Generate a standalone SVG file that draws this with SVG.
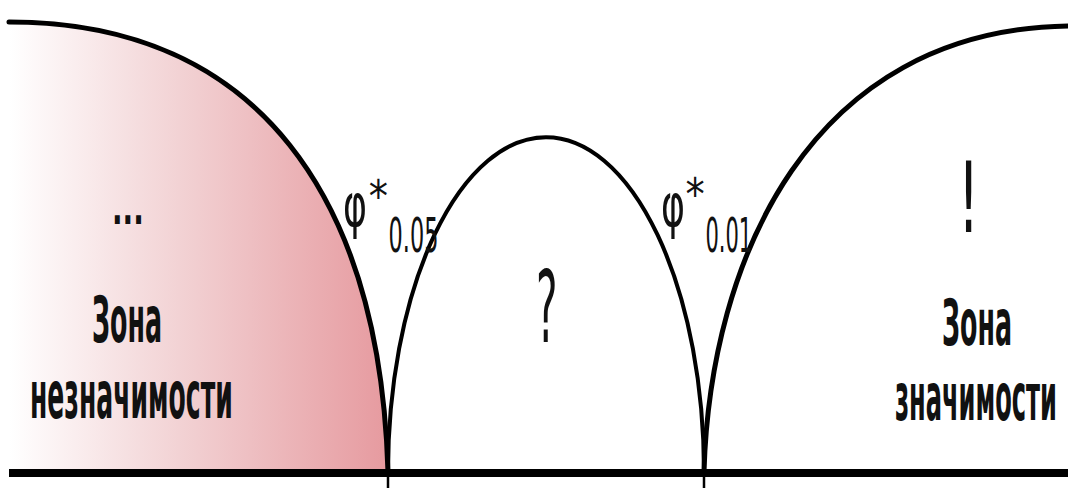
<svg xmlns="http://www.w3.org/2000/svg" width="1068" height="488" viewBox="0 0 1068 488">
<defs>
<linearGradient id="pink" x1="9" y1="0" x2="388" y2="0" gradientUnits="userSpaceOnUse">
<stop offset="0" stop-color="#ffffff"/>
<stop offset="0.45" stop-color="#f2d2d4"/>
<stop offset="1" stop-color="#e69a9f"/>
</linearGradient>
</defs>
<style>
.curve{fill:none;stroke:#000;stroke-linecap:round}
.lbl{font-family:"DejaVu Sans Condensed","DejaVu Sans",sans-serif;font-weight:bold;fill:#111}
.sym{font-family:"DejaVu Sans Condensed","DejaVu Sans",sans-serif;fill:#111}
</style>
<rect width="1068" height="488" fill="#ffffff"/>
<g id="zone-insignificant">
<path d="M9,22 C260,22 380,200 388,472 L9,472 Z" fill="url(#pink)"/>
<path class="curve" d="M9,22 C260,22 380,200 388,472" stroke-width="5"/>
<text class="lbl" x="0" y="0" font-size="46" textLength="53" lengthAdjust="spacingAndGlyphs" transform="translate(112,224) scale(0.6,1)">...</text>
<text class="lbl" x="0" y="0" font-size="64" textLength="140" lengthAdjust="spacingAndGlyphs" transform="translate(92,342) scale(0.5,1)">Зона</text>
<text class="lbl" x="0" y="0" font-size="66" textLength="507" lengthAdjust="spacingAndGlyphs" transform="translate(30,418) scale(0.4,1)">незначимости</text>
</g>
<g id="zone-uncertain">
<path class="curve" d="M388,472 A158,335 0 0 1 704,472" stroke-width="4"/>
<text class="sym" x="0" y="0" font-size="100" transform="translate(536,342) scale(0.45,1)">?</text>
</g>
<g id="zone-significant">
<path class="curve" d="M704,472 C710,260 810,30 1068,26" stroke-width="5"/>
<text class="sym" x="0" y="0" font-size="98" transform="translate(958,232) scale(0.6,1)">!</text>
<text class="lbl" x="0" y="0" font-size="64" textLength="140" lengthAdjust="spacingAndGlyphs" transform="translate(942,345) scale(0.5,1)">Зона</text>
<text class="lbl" x="0" y="0" font-size="66" textLength="405" lengthAdjust="spacingAndGlyphs" transform="translate(895,420) scale(0.4,1)">значимости</text>
</g>
<g id="threshold-005">
<text class="sym" transform="translate(343,0) scale(0.6,1)"><tspan x="0" y="226" font-size="60" textLength="40" lengthAdjust="spacingAndGlyphs">φ</tspan><tspan x="43" y="212" font-size="44" textLength="32" lengthAdjust="spacingAndGlyphs">*</tspan><tspan x="76" y="252" font-size="48" textLength="83" lengthAdjust="spacingAndGlyphs">0.05</tspan></text>
</g>
<g id="threshold-001">
<text class="sym" transform="translate(661,0) scale(0.6,1)"><tspan x="0" y="226" font-size="60" textLength="40" lengthAdjust="spacingAndGlyphs">φ</tspan><tspan x="41" y="210" font-size="44" textLength="32" lengthAdjust="spacingAndGlyphs">*</tspan><tspan x="74" y="252" font-size="48" textLength="78" lengthAdjust="spacingAndGlyphs">0.01</tspan></text>
</g>
<g id="connectors">
<line x1="9" y1="473" x2="1068" y2="473" stroke="#000" stroke-width="8"/>
<line x1="388" y1="470" x2="388" y2="488" stroke="#000" stroke-width="2.5"/>
<line x1="704" y1="470" x2="704" y2="488" stroke="#000" stroke-width="2.5"/>
</g>
</svg>
